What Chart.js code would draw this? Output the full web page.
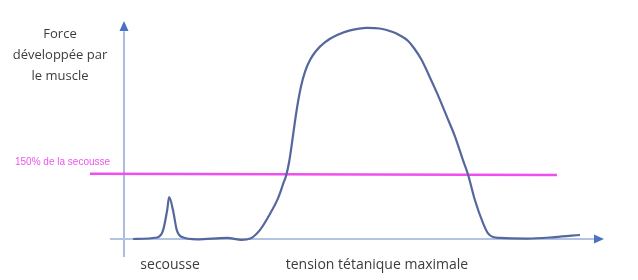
<!DOCTYPE html>
<html>
<head>
    <title>Force développée par le muscle</title>
    <script src="https://cdn.jsdelivr.net/npm/chart.js"></script>
    <style>
        body { margin: 0; background: #fff; }
        .wrap { position: relative; width: 638px; height: 280px; }
    </style>
</head>
<body>
    <div class="wrap">
        <canvas id="forceChart"></canvas>
    </div>

<script>
    // temps (unités arbitraires) et force (% de la tension tétanique maximale)
    const timeValues  = [1.9, 6.9, 8.1, 9.0, 9.4, 10.2, 11.0, 12.1, 15.2, 21.5, 24.5,
                         26.3, 28.3, 30.4, 32.1, 33.3, 33.75, 34.4, 35.0, 35.6, 36.25, 36.9, 37.7, 38.75, 40.0, 41.9, 44.4, 47.1, 50.6,
                         53.3, 56.0, 57.5, 59.2, 60.4, 61.9, 63.5, 65.2, 67.3, 69.0, 70.6, 71.7, 73.1, 74.8, 75.8, 76.9, 78.3,
                         84.0, 89.8, 95.0];
    const forceValues = [0, 0.7, 3.8, 13.7, 19.8, 13.7, 4.2, 0.9, -0.2, 0.5, -0.4,
                         0.2, 4.2, 11.8, 19.3, 26.9, 29.7, 36.3, 45.3, 55.2, 64.6, 72.2, 78.8, 84.4, 88.7, 92.9, 96.2, 98.4, 99.6,
                         99.3, 97.6, 96.0, 93.4, 90.1, 84.9, 77.4, 68.9, 57.5, 48.1, 37.3, 30.2, 18.4, 7.5, 2.8, 0.9, 0.5,
                         0.2, 0.9, 1.9];

    // seuil : 150% de la secousse
    const thresholdTime  = [-7.1, 90.2];
    const thresholdForce = [30.8, 30.2];
    const thresholdLabel = '150% de la secousse';

    const yAxisTitle  = ['Force', 'développée par', 'le muscle'];
    const eventLabels = ['secousse', 'tension tétanique maximale'];
    const eventTimes  = [9.6, 52.7];

    // axes dessinés à la main (flèches)
    const axesPlugin = {
        id: 'axes',
        beforeDatasetsDraw(chart) {
            const ctx = chart.ctx;
            const x = chart.scales.x, y = chart.scales.y;
            const x0 = x.getPixelForValue(0), y0 = y.getPixelForValue(0);
            ctx.save();
            // axe vertical
            ctx.strokeStyle = '#8ea5d5';
            ctx.lineWidth = 1.5;
            ctx.beginPath();
            ctx.moveTo(x0, y.getPixelForValue(-8.5));
            ctx.lineTo(x0, y.getPixelForValue(98));
            ctx.stroke();
            // axe horizontal
            ctx.strokeStyle = '#b3c3e4';
            ctx.lineWidth = 2;
            ctx.beginPath();
            ctx.moveTo(x.getPixelForValue(-2.9), y0);
            ctx.lineTo(x.getPixelForValue(98), y0);
            ctx.stroke();
            // flèches
            ctx.fillStyle = '#4a72c4';
            const yTip = y.getPixelForValue(102.8);
            ctx.beginPath();
            ctx.moveTo(x0, yTip);
            ctx.lineTo(x0 - 4.5, yTip + 10);
            ctx.lineTo(x0 + 4.5, yTip + 10);
            ctx.closePath();
            ctx.fill();
            const xTip = x.getPixelForValue(100);
            ctx.beginPath();
            ctx.moveTo(xTip, y0);
            ctx.lineTo(xTip - 10, y0 - 4.5);
            ctx.lineTo(xTip - 10, y0 + 4.5);
            ctx.closePath();
            ctx.fill();
            ctx.restore();
        },
        afterDatasetsDraw(chart) {
            const ctx = chart.ctx;
            const x = chart.scales.x;
            ctx.save();
            ctx.textAlign = 'center';
            ctx.textBaseline = 'alphabetic';
            ctx.fillStyle = '#3c3c3c';
            ctx.font = '13px "Open Sans"';
            yAxisTitle.forEach((line, i) => ctx.fillText(line, 60, 38 + i * 21));
            ctx.font = '14px "Open Sans"';
            eventLabels.forEach((lbl, i) => ctx.fillText(lbl, x.getPixelForValue(eventTimes[i]), 269));
            ctx.fillStyle = '#ee55ee';
            ctx.font = '10px "Liberation Sans"';
            ctx.textAlign = 'left';
            ctx.fillText(thresholdLabel, 15, 165);
            ctx.restore();
        }
    };

    const ctx = document.getElementById('forceChart').getContext('2d');
    const chart = new Chart(ctx, {
        type: 'line',
        data: {
            datasets: [{
                label: 'Force',
                data: timeValues.map((t, i) => ({ x: t, y: forceValues[i] })),
                borderColor: '#55679c',
                borderWidth: 2.2,
                pointRadius: 0,
                cubicInterpolationMode: 'monotone'
            }, {
                label: thresholdLabel,
                data: thresholdTime.map((t, i) => ({ x: t, y: thresholdForce[i] })),
                borderColor: '#ee4fee',
                borderWidth: 2.5,
                pointRadius: 0
            }]
        },
        options: {
            responsive: true,
            maintainAspectRatio: false,
            animation: false,
            layout: { padding: 0 },
            plugins: { legend: { display: false }, tooltip: { enabled: false } },
            scales: {
                x: { type: 'linear', min: -25.833, max: 107.083, display: false },
                y: { min: -19.34, max: 112.736, display: false }
            }
        },
        plugins: [axesPlugin]
    });
</script>
</body>
</html>
